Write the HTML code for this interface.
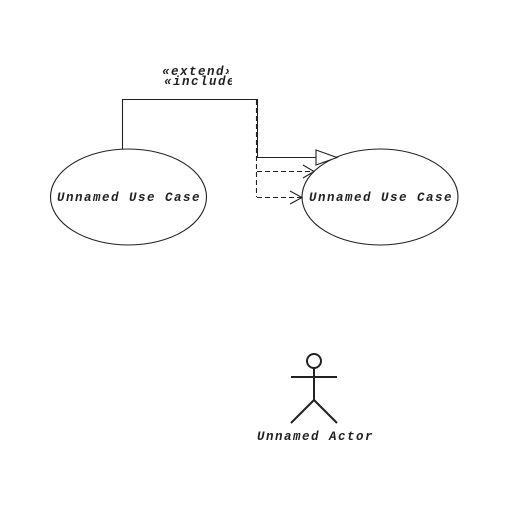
<!DOCTYPE html>
<html><head><style>
body{margin:0;background:#fff;width:509px;height:500px;overflow:hidden}
text{font-family:"Liberation Mono",monospace;font-style:italic;font-weight:bold;font-size:12.5px;letter-spacing:1.5px;fill:#222}
</style></head><body>
<svg width="509" height="500" viewBox="0 0 509 500" xmlns="http://www.w3.org/2000/svg">
<g fill="none" stroke="#222" stroke-width="1.1">
<ellipse cx="128.5" cy="197" rx="78" ry="48"/>
<ellipse cx="380" cy="197" rx="78" ry="48"/>
<polyline points="122.5,149 122.5,99.5 257.5,99.5 257.5,157.5 316,157.5"/>
<polygon points="316,150 316,165 337,157.5" fill="#fff"/>
<g stroke-dasharray="5,3">
<line x1="256.5" y1="100" x2="256.5" y2="197"/>
<line x1="257" y1="171.5" x2="313" y2="171.5"/>
<line x1="257" y1="197.5" x2="301" y2="197.5"/>
</g>
<polyline points="303,165 314,171.5 303,178"/>
<polyline points="290,191 302,197.5 290,204"/>
<g stroke-width="2">
<circle cx="314" cy="361" r="7"/>
<line x1="314" y1="368" x2="314" y2="400"/>
<line x1="291" y1="377" x2="337" y2="377"/>
<line x1="314" y1="400" x2="291" y2="423"/>
<line x1="314" y1="400" x2="337" y2="423"/>
</g>
</g>
<text x="57" y="201">Unnamed Use Case</text>
<text x="309" y="201">Unnamed Use Case</text>
<text x="257" y="440">Unnamed Actor</text>
<svg x="0" y="0" width="229" height="100"><text x="162" y="75">«extend»</text></svg>
<svg x="0" y="0" width="232" height="100"><text x="164" y="85">«include»</text></svg>
</svg>
</body></html>
